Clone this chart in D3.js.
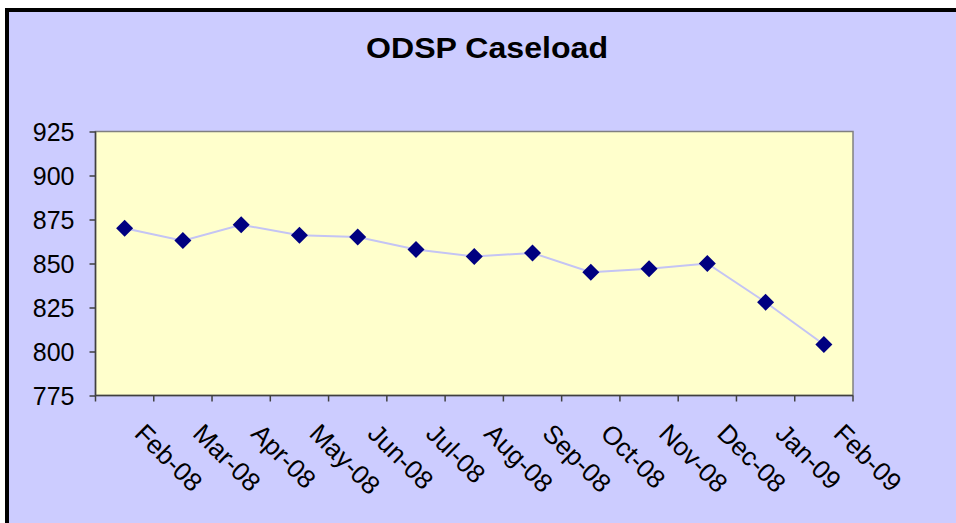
<!DOCTYPE html>
<html>
<head>
<meta charset="utf-8">
<script src="https://cdn.jsdelivr.net/npm/d3@7"></script>
<style>
  body { margin: 0; background: #fff; }
  text { font-family: "Liberation Sans", Arial, sans-serif; }
</style>
</head>
<body>
<div id="chart"></div>
<script>
// chart data
const months = ["Feb-08", "Mar-08", "Apr-08", "May-08", "Jun-08", "Jul-08", "Aug-08",
  "Sep-08", "Oct-08", "Nov-08", "Dec-08", "Jan-09", "Feb-09"];
const caseload = [870, 863, 872, 866, 865, 858, 854, 856, 845, 847, 850, 828, 804];
const yTicks = [775, 800, 825, 850, 875, 900, 925];

const width = 956, height = 523;
const plot = { left: 95.5, top: 131.5, right: 853, bottom: 395.5 };

let svg = d3.select("#chart").append("svg")
  .attr("width", width)
  .attr("height", height);

// outer chart area with black frame
svg.append("rect")
  .attr("x", 7).attr("y", 10)
  .attr("width", 980).attr("height", 540)
  .attr("fill", "#ccccff")
  .attr("stroke", "#000")
  .attr("stroke-width", 4);

svg.append("text")
  .attr("x", 487).attr("y", 58)
  .attr("text-anchor", "middle")
  .attr("font-size", 29)
  .attr("font-weight", "bold")
  .attr("textLength", 242)
  .attr("lengthAdjust", "spacingAndGlyphs")
  .text("ODSP Caseload");

let x = d3.scaleBand()
  .domain(months)
  .range([plot.left, plot.right]);

let y = d3.scaleLinear()
  .domain([775, 925])
  .range([plot.bottom, plot.top]);

// plot area
svg.append("rect")
  .attr("x", plot.left).attr("y", plot.top)
  .attr("width", plot.right - plot.left)
  .attr("height", plot.bottom - plot.top)
  .attr("fill", "#ffffcc")
  .attr("stroke", "#808080")
  .attr("stroke-width", 1.5);

// y axis
let yAxis = svg.append("g")
  .attr("transform", "translate(" + plot.left + ",0)")
  .call(d3.axisLeft(y).tickValues(yTicks).tickSize(6).tickPadding(15));
yAxis.selectAll("path, line").attr("stroke", "#404040").attr("stroke-width", 1.5);
yAxis.select(".domain").attr("d", "M0," + plot.top + "V" + plot.bottom);
yAxis.selectAll("text")
  .attr("font-size", 25)
  .attr("fill", "#000")
  .attr("dy", "0.34em")
  .style("font-family", "'Liberation Sans', Arial, sans-serif");

// x axis, ticks on category boundaries
let bounds = months.map(m => x(m)).concat([plot.right]);
let xAxis = svg.append("g");
xAxis.append("line")
  .attr("x1", plot.left).attr("x2", plot.right)
  .attr("y1", plot.bottom).attr("y2", plot.bottom)
  .attr("stroke", "#404040").attr("stroke-width", 1.5);
xAxis.selectAll(".tick")
  .data(bounds)
  .enter().append("line")
  .attr("x1", d => d).attr("x2", d => d)
  .attr("y1", plot.bottom).attr("y2", plot.bottom + 6)
  .attr("stroke", "#404040").attr("stroke-width", 1.5);
xAxis.selectAll(".lbl")
  .data(months)
  .enter().append("text")
  .attr("font-size", 26)
  .attr("transform", d => "translate(" + (x(d) + x.bandwidth() / 2 + 8.5) + "," + 435 + ")rotate(45)")
  .text(d => d);

// series
let cx = (d, i) => x(months[i]) + x.bandwidth() / 2;
let line = d3.line()
  .x((d, i) => cx(d, i))
  .y(d => y(d));

svg.append("path")
  .datum(caseload)
  .attr("d", line)
  .attr("fill", "none")
  .attr("stroke", "#c4c4f4")
  .attr("stroke-width", 2);

svg.selectAll(".marker")
  .data(caseload)
  .enter().append("path")
  .attr("d", "M0,-8.5L8.5,0L0,8.5L-8.5,0Z")
  .attr("transform", (d, i) => "translate(" + cx(d, i) + "," + y(d) + ")")
  .attr("fill", "#000080");
</script>
</body>
</html>
